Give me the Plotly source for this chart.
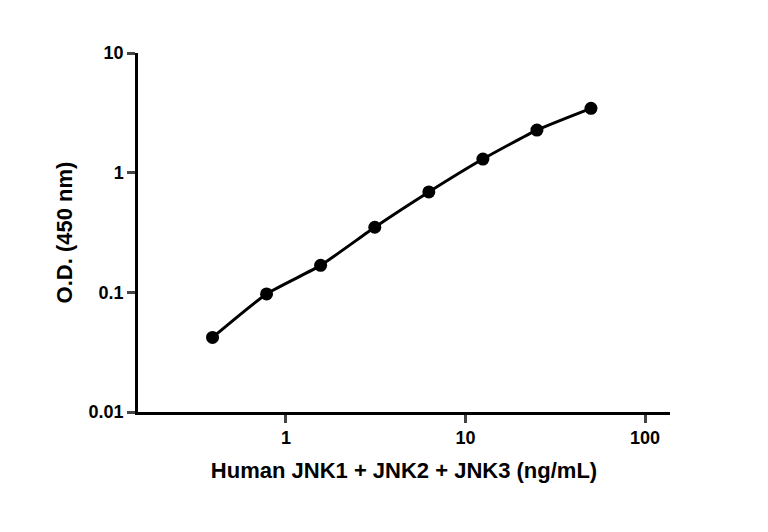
import plotly.graph_objects as go

conc = [0.39, 0.78, 1.56, 3.125, 6.25, 12.5, 25, 50]
od = [0.042, 0.097, 0.168, 0.35, 0.69, 1.3, 2.27, 3.45]
xticks = [1, 10, 100]
yticks = [0.01, 0.1, 1, 10]

fig = go.Figure()
fig.add_trace(go.Scatter(x=conc, y=od, mode="lines", line=dict(color="black", width=3, shape="spline", smoothing=0.5), showlegend=False))
fig.add_trace(go.Scatter(x=conc, y=od, mode="markers", marker=dict(color="black", size=13), showlegend=False))
font = dict(family="Liberation Sans, Arial", size=18, color="black")
fig.update_layout(
    width=768, height=532, plot_bgcolor="white", paper_bgcolor="white",
    margin=dict(l=130, r=106, t=45, b=128),
    font=font,
    xaxis=dict(type="log", range=[-0.824, 2.139], tickvals=xticks, ticktext=["<b>1</b>", "<b>10</b>", "<b>100</b>"],
               showline=True, linecolor="black", linewidth=2.5, ticks="outside", tickwidth=2.5, ticklen=8,
               showgrid=False, zeroline=False,
               title=dict(text="<b>Human JNK1 + JNK2 + JNK3 (ng/mL)</b>", font=dict(size=22), standoff=16)),
    yaxis=dict(type="log", range=[-2, 1], tickvals=yticks, ticktext=["<b>0.01</b>", "<b>0.1</b>", "<b>1</b>", "<b>10</b>"],
               showline=True, linecolor="black", linewidth=2.5, ticks="outside", tickwidth=2.5, ticklen=8,
               showgrid=False, zeroline=False,
               title=dict(text="<b>O.D. (450 nm)</b>", font=dict(size=22), standoff=10)),
)
fig.write_html("out.html")
